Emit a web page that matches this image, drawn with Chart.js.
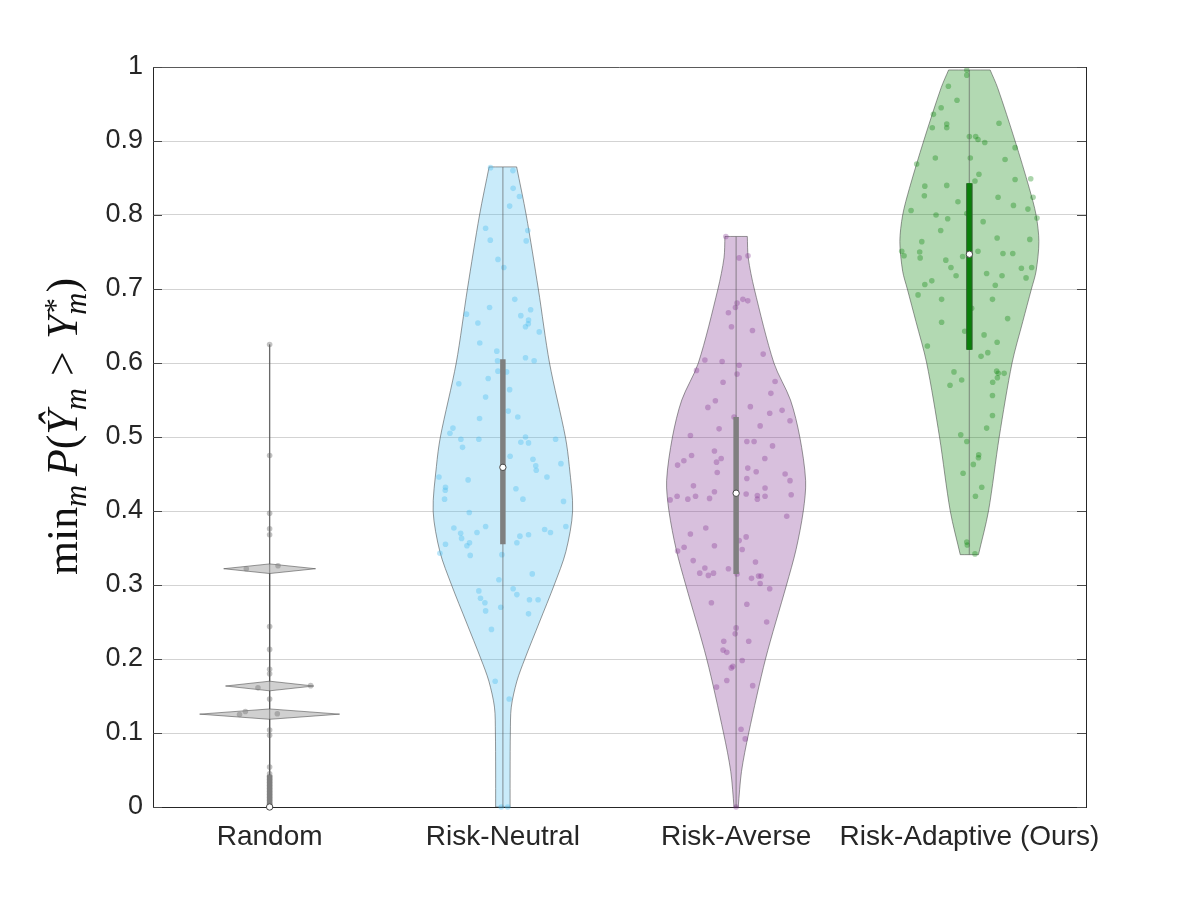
<!DOCTYPE html>
<html>
<head>
<meta charset="utf-8">
<script src="https://cdn.jsdelivr.net/npm/chart.js@4.4.1/dist/chart.umd.min.js"></script>
<style>
    html, body { margin: 0; padding: 0; background: #fff; }
    #wrap { width: 1196px; height: 903px; }
</style>
</head>
<body>
<div id="wrap"><canvas id="violin-chart" width="1196" height="903"></canvas></div>
<script>
// категории и оси
const categories = ['Random', 'Risk-Neutral', 'Risk-Averse', 'Risk-Adaptive (Ours)'];
const yTickValues = [0, 0.1, 0.2, 0.3, 0.4, 0.5, 0.6, 0.7, 0.8, 0.9, 1];
const yTickLabels = ['0', '0.1', '0.2', '0.3', '0.4', '0.5', '0.6', '0.7', '0.8', '0.9', '1'];

// профили плотности (полуширина в единицах категории на уровне y)
const randomProfileY = [0, 0.1185, 0.1255, 0.1325, 0.157, 0.1635, 0.170, 0.3155, 0.322, 0.3285, 0.625];
const randomProfileW = [0, 0, 0.300, 0, 0, 0.189, 0, 0, 0.197, 0, 0];
const neutralProfileY = [0, 0.05, 0.10, 0.135, 0.17, 0.20, 0.25, 0.30, 0.345, 0.40, 0.46, 0.50, 0.60, 0.70, 0.80, 0.865];
const neutralProfileW = [0.031, 0.031, 0.032, 0.036, 0.060, 0.094, 0.157, 0.220, 0.270, 0.299, 0.285, 0.268, 0.200, 0.152, 0.100, 0.059];
const averseProfileY = [0, 0.048, 0.10, 0.20, 0.30, 0.348, 0.40, 0.441, 0.50, 0.55, 0.60, 0.70, 0.742, 0.771];
const averseProfileW = [0.009, 0.023, 0.054, 0.126, 0.216, 0.257, 0.288, 0.298, 0.273, 0.233, 0.162, 0.078, 0.052, 0.048];
const adaptiveProfileY = [0.341, 0.40, 0.50, 0.60, 0.656, 0.70, 0.724, 0.764, 0.80, 0.836, 0.90, 0.972, 0.996];
const adaptiveProfileW = [0.039, 0.082, 0.128, 0.183, 0.229, 0.266, 0.286, 0.298, 0.286, 0.257, 0.196, 0.121, 0.089];

// статистики бокса
const whiskerLow = [0, 0, 0, 0.341];
const whiskerHigh = [0.625, 0.865, 0.771, 0.996];
const quartileLow = [0, 0.355, 0.315, 0.618];
const quartileHigh = [0.043, 0.605, 0.527, 0.843];
const medians = [0, 0.459, 0.424, 0.747];

// отдельные наблюдения (значение + смещение по x)
const randomSamples = [0.625, 0.475, 0.397, 0.376, 0.368, 0.322, 0.326, 0.244, 0.213, 0.186,
    0.180, 0.161, 0.164, 0.146, 0.125, 0.129, 0.126, 0.104, 0.097, 0.054,
    0.045, 0.041, 0.037, 0.033, 0.029, 0.025, 0.021, 0.017, 0.013, 0.009, 0.005, 0];
const randomJitter = [0, 0, 0, 0, 0, -0.100, 0.036, 0, 0, 0,
    0, -0.050, 0.176, 0, -0.129, -0.104, 0.033, 0, 0, 0,
    0, 0, 0, 0, 0, 0, 0, 0, 0, 0, 0, 0];

const neutralSamples = [0.864, 0.860, 0.836, 0.825, 0.812, 0.782, 0.766, 0.779, 0.765, 0.740,
    0.729, 0.686, 0.675, 0.666, 0.664, 0.672, 0.658, 0.653, 0.649, 0.642,
    0.654, 0.627, 0.616, 0.603, 0.607, 0.603, 0.589, 0.588, 0.579, 0.564,
    0.572, 0.554, 0.535, 0.527, 0.525, 0.512, 0.505, 0.497, 0.486, 0.497,
    0.500, 0.493, 0.492, 0.497, 0.474, 0.470, 0.461, 0.455, 0.464, 0.446,
    0.432, 0.428, 0.416, 0.442, 0.430, 0.416, 0.446, 0.413, 0.398, 0.377,
    0.370, 0.363, 0.371, 0.379, 0.353, 0.357, 0.340, 0.355, 0.343, 0.357,
    0.366, 0.368, 0.375, 0.371, 0.379, 0.341, 0.307, 0.315, 0.292, 0.282,
    0.276, 0.265, 0.240, 0.270, 0.295, 0.287, 0.280, 0.280, 0.261, 0.170,
    0.146, 0, 0];
const neutralJitter = [-0.053, 0.043, 0.044, 0.071, 0.029, -0.074, -0.054, 0.107, 0.100, -0.021,
    0.004, 0.051, -0.057, -0.156, 0.077, 0.119, 0.110, 0.109, 0.097, 0.156,
    -0.107, -0.099, -0.026, -0.023, 0.097, 0.134, -0.021, 0.016, -0.063, 0.029,
    -0.189, -0.074, 0.023, 0.064, -0.100, -0.214, -0.227, -0.180, -0.173, -0.103,
    0.097, 0.077, 0.110, 0.226, 0.031, 0.129, 0.141, 0.143, 0.249, -0.274,
    -0.246, -0.247, -0.250, -0.149, 0.056, 0.086, 0.189, 0.260, -0.144, -0.210,
    -0.181, -0.177, -0.111, -0.074, -0.154, -0.143, -0.140, -0.246, -0.270, 0.060,
    0.073, 0.110, 0.179, 0.204, 0.270, -0.004, -0.017, 0.126, -0.103, -0.096,
    -0.077, -0.074, -0.049, -0.009, 0.044, 0.060, 0.114, 0.151, 0.110, -0.033,
    0.027, -0.007, 0.021];

const averseSamples = [0.771, 0.742, 0.745, 0.686, 0.684, 0.681, 0.675, 0.668, 0.649, 0.644,
    0.612, 0.604, 0.590, 0.602, 0.597, 0.585, 0.574, 0.575, 0.559, 0.540,
    0.549, 0.541, 0.536, 0.532, 0.522, 0.527, 0.515, 0.511, 0.502, 0.494,
    0.494, 0.488, 0.481, 0.475, 0.468, 0.462, 0.471, 0.466, 0.471, 0.458,
    0.453, 0.452, 0.450, 0.441, 0.444, 0.434, 0.426, 0.420, 0.415, 0.416,
    0.420, 0.417, 0.423, 0.421, 0.416, 0.420, 0.431, 0.422, 0.393, 0.377,
    0.369, 0.353, 0.351, 0.346, 0.360, 0.348, 0.365, 0.333, 0.316, 0.323,
    0.313, 0.316, 0.322, 0.315, 0.331, 0.309, 0.312, 0.312, 0.302, 0.295,
    0.276, 0.274, 0.250, 0.242, 0.234, 0.224, 0.224, 0.212, 0.209, 0.198,
    0.190, 0.188, 0.162, 0.171, 0.164, 0.105, 0.092, 0];
const averseJitter = [-0.044, 0.013, 0.051, 0.029, 0.050, 0.004, -0.003, -0.033, -0.020, 0.070,
    0.116, -0.134, -0.170, -0.060, 0.013, 0.004, -0.056, 0.167, 0.149, -0.121,
    -0.089, 0.061, 0.197, 0.144, 0.231, -0.009, 0.103, -0.073, -0.196, 0.046,
    0.077, 0.156, -0.093, -0.191, -0.224, -0.251, -0.064, -0.084, 0.123, 0.050,
    0.086, -0.081, 0.210, 0.231, 0.046, -0.183, -0.093, -0.253, -0.283, -0.207,
    -0.174, -0.114, 0.043, 0.091, 0.091, 0.124, 0.124, 0.236, 0.217, -0.130,
    -0.196, -0.093, -0.223, -0.251, 0.013, 0.026, 0.043, -0.184, -0.156, -0.134,
    -0.119, -0.097, -0.033, 0.004, 0.083, 0.066, 0.096, 0.107, 0.103, 0.144,
    -0.106, 0.046, 0.131, 0, -0.004, -0.053, 0.054, -0.056, -0.040, 0.026,
    -0.014, -0.021, -0.084, -0.040, 0.071, 0.021, 0.039, 0];

const adaptiveSamples = [0.996, 0.989, 0.974, 0.955, 0.945, 0.936, 0.918, 0.923, 0.918, 0.924,
    0.906, 0.906, 0.902, 0.898, 0.891, 0.877, 0.877, 0.875, 0.869, 0.855,
    0.846, 0.848, 0.849, 0.839, 0.840, 0.826, 0.824, 0.824, 0.818, 0.813,
    0.808, 0.806, 0.800, 0.795, 0.802, 0.796, 0.791, 0.779, 0.769, 0.764,
    0.767, 0.751, 0.745, 0.750, 0.742, 0.744, 0.751, 0.748, 0.748, 0.739,
    0.729, 0.718, 0.721, 0.718, 0.729, 0.728, 0.715, 0.706, 0.711, 0.705,
    0.692, 0.686, 0.686, 0.660, 0.655, 0.643, 0.623, 0.674, 0.638, 0.628,
    0.614, 0.609, 0.588, 0.577, 0.570, 0.589, 0.586, 0.586, 0.580, 0.574,
    0.556, 0.529, 0.512, 0.503, 0.494, 0.472, 0.476, 0.463, 0.451, 0.432,
    0.420, 0.358, 0.354, 0.342];
const adaptiveJitter = [-0.011, -0.011, -0.090, -0.053, -0.121, -0.154, -0.159, -0.097, -0.097, 0.127,
    0, 0.027, 0.037, 0.066, 0.196, -0.146, 0.004, 0.153, -0.226, 0.041,
    0.024, 0.196, 0.263, -0.191, -0.097, -0.193, 0.123, 0.273, -0.049, 0.189,
    0.251, -0.250, -0.143, -0.093, -0.011, 0.290, 0.059, -0.123, 0.119, -0.204,
    0.259, -0.290, -0.280, -0.213, -0.211, -0.029, 0.037, 0.144, 0.186, -0.101,
    -0.079, -0.057, 0.074, 0.140, 0.267, 0.223, 0.243, -0.191, -0.161, 0.111,
    -0.220, -0.119, 0.099, 0.164, -0.119, -0.020, -0.180, 0.010, 0.063, 0.119,
    0.079, 0.050, -0.066, -0.033, -0.083, 0.117, 0.124, 0.149, 0.120, 0.100,
    0.099, 0.099, 0.074, -0.037, -0.011, 0.039, 0.040, 0.017, -0.027, 0.053,
    0.026, -0.011, -0.009, 0.024];

// стили групп
const fillColors = ['rgba(110,110,110,0.32)', 'rgba(77,190,238,0.3)', 'rgba(126,47,142,0.3)', 'rgba(0,128,0,0.3)'];
const dotColors = ['rgba(120,120,120,0.45)', 'rgba(77,190,238,0.38)', 'rgba(126,47,142,0.33)', 'rgba(0,128,0,0.33)'];
const boxColors = ['#7f7f7f', '#7f7f7f', '#7f7f7f', '#0a7f0a'];
const outlineTension = [0, 0.3, 0.3, 0.3];

const FONT = '"Liberation Sans", Arial, Helvetica, sans-serif';
const TEXT_COLOR = '#262626';

const profiles = [
    [randomProfileY, randomProfileW],
    [neutralProfileY, neutralProfileW],
    [averseProfileY, averseProfileW],
    [adaptiveProfileY, adaptiveProfileW],
];
const samples = [
    [randomSamples, randomJitter],
    [neutralSamples, neutralJitter],
    [averseSamples, averseJitter],
    [adaptiveSamples, adaptiveJitter],
];

// контур: правая сторона снизу вверх, левая сверху вниз; концы дублируем, чтобы углы были острыми
const buildOutline = (cat, ys, ws) => {
    const last = ys.length - 1;
    const side = (sign) => {
        const pts = [];
        ys.forEach((y, i) => {
            pts.push({ x: cat + sign * ws[i], y });
            if (i === 0 || i === last) pts.push({ x: cat + sign * ws[i], y });
        });
        return pts;
    };
    const pts = side(1).concat(side(-1).reverse());
    pts.push({ ...pts[0] });
    return pts;
};

const buildPoints = (cat, ys, jit) => ys.map((y, i) => ({ x: cat + jit[i], y }));

const datasets = [];
categories.forEach((name, i) => {
    const cat = i + 1;
    datasets.push({
        label: name + ' violin',
        data: buildOutline(cat, profiles[i][0], profiles[i][1]),
        showLine: true,
        fill: 'shape',
        backgroundColor: fillColors[i],
        borderColor: 'rgba(70,70,70,0.55)',
        borderWidth: 1,
        pointRadius: 0,
        tension: outlineTension[i],
        order: 50,
    });
    datasets.push({
        label: name + ' samples',
        data: buildPoints(cat, samples[i][0], samples[i][1]),
        showLine: false,
        pointRadius: 2.8,
        pointBorderWidth: 0,
        pointBackgroundColor: dotColors[i],
        clip: false,
        order: 40,
    });
    datasets.push({
        label: name + ' whisker',
        data: [{ x: cat, y: whiskerLow[i] }, { x: cat, y: whiskerHigh[i] }],
        showLine: true,
        borderColor: 'rgba(90,90,90,0.5)',
        borderWidth: 1.3,
        pointRadius: 0,
        order: 30,
    });
    if (i === 3) {
        datasets.push({
            label: name + ' box edge',
            data: [{ x: cat, y: quartileLow[i] }, { x: cat, y: quartileHigh[i] }],
            showLine: true,
            borderColor: '#2f5f2f',
            borderWidth: 6.5,
            borderCapStyle: 'butt',
            pointRadius: 0,
            clip: false,
            order: 21,
        });
    }
    datasets.push({
        label: name + ' box',
        data: [{ x: cat, y: quartileLow[i] }, { x: cat, y: quartileHigh[i] }],
        showLine: true,
        borderColor: boxColors[i],
        borderWidth: i === 3 ? 4.5 : 5.5,
        borderCapStyle: 'butt',
        pointRadius: 0,
        clip: false,
        order: 20,
    });
    datasets.push({
        label: name + ' median',
        data: [{ x: cat, y: medians[i] }],
        showLine: false,
        pointRadius: 3.2,
        pointBackgroundColor: '#ffffff',
        pointBorderColor: '#454545',
        pointBorderWidth: 1,
        clip: false,
        order: 10,
    });
});

// рамка, внутренние засечки и подпись оси Y
const framePlugin = {
    id: 'frameAndTitle',
    afterDraw(chart) {
        const { ctx, chartArea: a, scales } = chart;
        ctx.save();
        ctx.strokeStyle = TEXT_COLOR;
        ctx.lineWidth = 1;
        ctx.beginPath();
        ctx.moveTo(a.right + 0.5, a.top);
        ctx.lineTo(a.right + 0.5, a.bottom);
        ctx.stroke();
        ctx.strokeStyle = '#5a5a5a';
        ctx.beginPath();
        ctx.moveTo(a.left, a.top + 0.5);
        ctx.lineTo(a.right, a.top + 0.5);
        ctx.stroke();

        ctx.strokeStyle = '#4a4a4a';
        ctx.beginPath();
        yTickValues.forEach((v) => {
            const py = Math.round(scales.y.getPixelForValue(v)) + 0.5;
            ctx.moveTo(a.left, py);
            ctx.lineTo(a.left + 9, py);
            ctx.moveTo(a.right - 9, py);
            ctx.lineTo(a.right, py);
        });
        ctx.stroke();

        // min_m P(Ŷ_m > Y*_m)
        const parts = [
            { t: 'min', it: false, s: 1, dy: 0 },
            { t: 'm', it: true, s: 0.7, dy: 0.2 },
            { gap: 0.2 },
            { t: 'P', it: true, s: 1, dy: 0 },
            { t: '(', it: false, s: 1, dy: 0 },
            { t: '\u0176', it: true, s: 1, dy: 0 },
            { t: 'm', it: true, s: 0.7, dy: 0.2 },
            { gap: 0.28 },
            { t: '>', it: false, s: 1, dy: 0 },
            { gap: 0.28 },
            { t: 'Y', it: true, s: 1, dy: 0 },
            { stack: [{ t: '*', dy: -0.25 }, { t: 'm', dy: 0.2 }], it: true, s: 0.7 },
            { t: ')', it: false, s: 1, dy: 0 },
        ];
        let base = 37;
        const fontFor = (it, s) => `${it ? 'italic ' : ''}${(base * s).toFixed(1)}px "Liberation Serif", "Times New Roman", serif`;
        const widthOf = (p) => {
            if (p.gap) return p.gap * base;
            ctx.font = fontFor(p.it, p.s);
            if (p.stack) return Math.max(...p.stack.map((q) => ctx.measureText(q.t).width));
            return ctx.measureText(p.t).width;
        };
        const measure = () => parts.reduce((sum, p) => sum + widthOf(p), 0);
        base = base * 297 / measure();
        const total = measure();
        ctx.translate(77, 426.5);
        ctx.rotate(-Math.PI / 2);
        ctx.fillStyle = '#111';
        ctx.textBaseline = 'alphabetic';
        ctx.textAlign = 'left';
        let x = -total / 2;
        parts.forEach((p) => {
            const w = widthOf(p);
            if (p.stack) {
                ctx.font = fontFor(p.it, p.s);
                p.stack.forEach((q) => ctx.fillText(q.t, x, q.dy * base));
            } else if (!p.gap) {
                ctx.font = fontFor(p.it, p.s);
                ctx.fillText(p.t, x, p.dy * base);
            }
            x += w;
        });
        ctx.restore();
    },
};

const ctx = document.getElementById('violin-chart');
new Chart(ctx, {
    type: 'scatter',
    data: { datasets },
    options: {
        responsive: false,
        animation: false,
        layout: { padding: { top: 67, right: 110, bottom: 0, left: 0 } },
        plugins: {
            legend: { display: false },
            tooltip: { enabled: false },
        },
        scales: {
            x: {
                type: 'linear',
                min: 0.5,
                max: 4.5,
                afterBuildTicks: (scale) => {
                    scale.ticks = categories.map((c, i) => ({ value: i + 1 }));
                },
                afterFit: (scale) => { scale.height = 96; },
                grid: { display: false },
                border: { display: true, color: TEXT_COLOR, width: 1 },
                ticks: {
                    callback: (v, i) => categories[i],
                    color: TEXT_COLOR,
                    font: { family: FONT, size: 28 },
                    padding: 5,
                    maxRotation: 0,
                    autoSkip: false,
                },
            },
            y: {
                min: 0,
                max: 1,
                afterBuildTicks: (scale) => {
                    scale.ticks = yTickValues.map((v) => ({ value: v }));
                },
                afterFit: (scale) => { scale.width = 153; },
                grid: { color: '#d3d3d3', lineWidth: 1, drawTicks: false },
                border: { color: TEXT_COLOR, width: 1 },
                ticks: {
                    callback: (v, i) => yTickLabels[i],
                    color: TEXT_COLOR,
                    font: { family: FONT, size: 27 },
                    padding: 10,
                },
            },
        },
    },
    plugins: [framePlugin],
});
</script>
</body>
</html>
